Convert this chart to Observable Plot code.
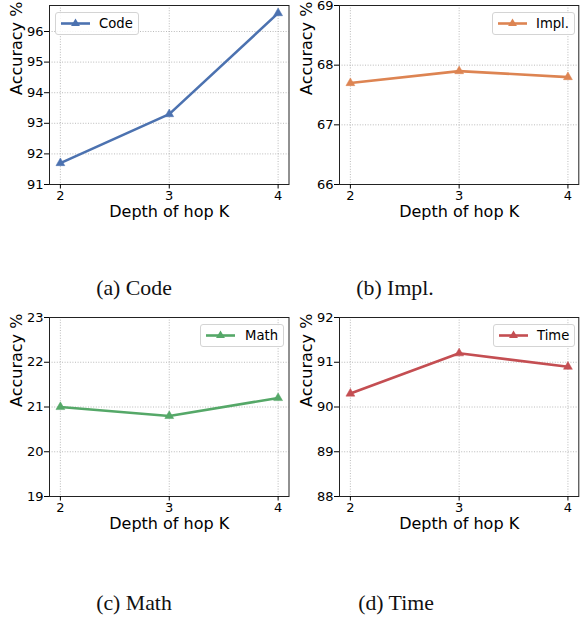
<!DOCTYPE html>
<html>
<head>
<meta charset="utf-8">
<script src="https://cdn.jsdelivr.net/npm/d3@7"></script>
<script src="https://cdn.jsdelivr.net/npm/@observablehq/plot@0.6"></script>
<style>
  html, body { margin: 0; padding: 0; background: #fff; }
  #root { position: relative; width: 581px; height: 619px; overflow: hidden; font-family: "DejaVu Sans", sans-serif; }
  .panel { position: absolute; }
  .panel g[aria-label="x-axis tick label"], .panel g[aria-label="y-axis tick label"] { font-size: 13px; }
  .legend { position: absolute; box-sizing: border-box; height: 23px; border: 1px solid #d4d4d4; border-radius: 3px; background: rgba(255,255,255,0.85); }
  .legend svg { position: absolute; left: 4px; top: 0; }
  .legend span { position: absolute; top: 0; line-height: 21px; font-size: 13.2px; color: #000; font-family: "DejaVu Sans", sans-serif; }
  .caption { position: absolute; font-family: "Liberation Serif", "Times New Roman", serif; font-size: 21.8px; color: #111; transform: translateX(-50%); white-space: nowrap; line-height: 1; }
</style>
</head>
<body>
<div id="root"></div>
<script>
// ---- data ----
const depths = [2, 3, 4];
const codeAcc = [91.7, 93.3, 96.6];
const implAcc = [67.7, 67.9, 67.8];
const mathAcc = [21.0, 20.8, 21.2];
const timeAcc = [90.3, 91.2, 90.9];

const seriesNames = ["Code", "Impl.", "Math", "Time"];
const captions = ["(a) Code", "(b) Impl.", "(c) Math", "(d) Time"];
const colors = ["#4C72B0", "#DD8452", "#55A868", "#C44E52"];

const codeTicks = [91, 92, 93, 94, 95, 96];
const implTicks = [66, 67, 68, 69];
const mathTicks = [19, 20, 21, 22, 23];
const timeTicks = [88, 89, 90, 91, 92];
const xTicks = [2, 3, 4];

const codeDomain = [91, 96.85];
const implDomain = [66, 69];
const mathDomain = [19, 23];
const timeDomain = [88, 92];

const xLabel = "Depth of hop K";
const yLabel = "Accuracy %";

// ---- layout ----
const panels = [
  {vals: codeAcc, ticks: codeTicks, domain: codeDomain, left: 0, top: 0, width: 290, mr: 1.5, legend: {left: 55, top: 12, width: 84, textLeft: 43}, cap: {x: 134, y: 278}},
  {vals: implAcc, ticks: implTicks, domain: implDomain, left: 290, top: 0, width: 291, mr: 2.7, legend: {left: 492, top: 12, width: 83, textLeft: 43}, cap: {x: 395, y: 278}},
  {vals: mathAcc, ticks: mathTicks, domain: mathDomain, left: 0, top: 312, width: 290, mr: 1.5, legend: {left: 200, top: 324, width: 84, textLeft: 44}, cap: {x: 134, y: 593}},
  {vals: timeAcc, ticks: timeTicks, domain: timeDomain, left: 290, top: 312, width: 291, mr: 2.7, legend: {left: 493, top: 324, width: 82, textLeft: 43}, cap: {x: 396, y: 593}}
];

const root = document.getElementById("root");

panels.forEach((p, i) => {
  const color = colors[i];
  const data = depths.map((k, j) => ({k, acc: p.vals[j]}));
  const chart = Plot.plot({
    width: p.width,
    height: 230,
    marginLeft: 49,
    marginRight: p.mr,
    marginTop: 5,
    marginBottom: 46,
    x: {domain: [1.9, 4.1]},
    y: {domain: p.domain},
    style: {fontFamily: "DejaVu Sans, sans-serif", fontSize: "13px", color: "#000", background: "transparent", overflow: "visible"},
    marks: [
      Plot.gridX({ticks: xTicks, stroke: "#aaaaaa", strokeOpacity: 1, strokeWidth: 0.8, strokeDasharray: "1,1.6"}),
      Plot.gridY({ticks: p.ticks, stroke: "#aaaaaa", strokeOpacity: 1, strokeWidth: 0.8, strokeDasharray: "1,1.6"}),
      Plot.line(data, {x: "k", y: "acc", stroke: color, strokeWidth: 2.6}),
      Plot.dot(data, {x: "k", y: "acc", symbol: "triangle", r: 3.3, fill: color, stroke: color, strokeWidth: 0.5}),
      Plot.frame({stroke: "#222", strokeWidth: 1}),
      Plot.axisX({ticks: xTicks, tickSize: 4.5, tickPadding: 2, fontSize: 13, label: null, tickFormat: d => String(d)}),
      Plot.axisY({ticks: p.ticks, tickSize: 5, tickPadding: 1, fontSize: 13, label: null, tickFormat: d => String(d)}),
      Plot.text([xLabel], {frameAnchor: "bottom", dy: 27.5, text: d => d, fontSize: 16, lineAnchor: "middle", fill: "#000"}),
      Plot.text([yLabel], {frameAnchor: "left", dx: -33, rotate: -90, text: d => d, fontSize: 16, lineAnchor: "middle", fill: "#000"})
    ]
  });
  chart.classList.add("panel");
  chart.style.left = p.left + "px";
  chart.style.top = p.top + "px";
  root.appendChild(chart);

  // legend
  const lg = document.createElement("div");
  lg.className = "legend";
  lg.style.left = p.legend.left + "px";
  lg.style.top = p.legend.top + "px";
  lg.style.width = p.legend.width + "px";
  const svg = d3.create("svg").attr("width", 30).attr("height", 21);
  svg.append("line").attr("x1", 1).attr("x2", 30).attr("y1", 10.5).attr("y2", 10.5)
    .attr("stroke", color).attr("stroke-width", 2.6);
  svg.append("path").attr("d", d3.symbol(d3.symbolTriangle, 34)()).attr("transform", "translate(15.5,10.5)")
    .attr("fill", color);
  lg.appendChild(svg.node());
  const sp = document.createElement("span");
  sp.textContent = seriesNames[i];
  sp.style.left = p.legend.textLeft + "px";
  lg.appendChild(sp);
  root.appendChild(lg);

  // caption
  const cap = document.createElement("div");
  cap.className = "caption";
  cap.textContent = captions[i];
  cap.style.left = p.cap.x + "px";
  cap.style.top = p.cap.y + "px";
  root.appendChild(cap);
});
</script>
</body>
</html>
